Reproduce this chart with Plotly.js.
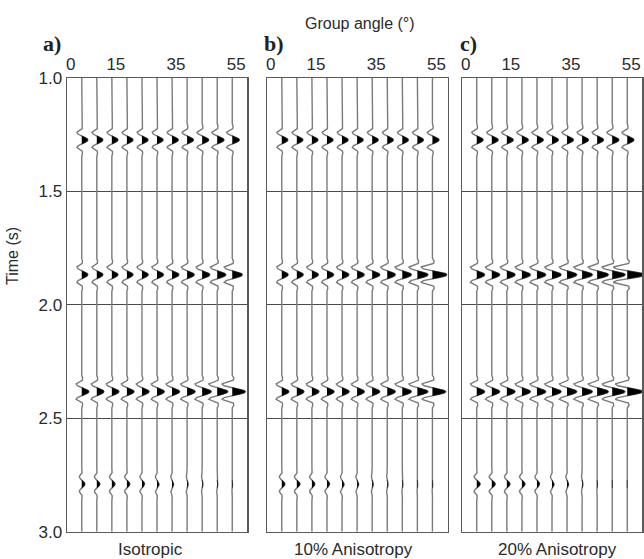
<!DOCTYPE html>
<html>
<head>
<meta charset="utf-8">
<script src="https://cdn.plot.ly/plotly-3.0.1.min.js"></script>
<style>
  html, body { margin: 0; padding: 0; background: #fff; }
  #chart { width: 644px; height: 559px; }
</style>
</head>
<body>
<div id="chart"></div>
<script>
// Group angles of the traces (degrees) and axis tick labels
const angles = [5, 10, 15, 20, 25, 30, 35, 40, 45, 50, 55];
const angleTicks = [0, 15, 35, 55];
const timeTicks = [1.0, 1.5, 2.0, 2.5, 3.0];

// Reflection arrival times (s)
const eventTimes = [1.274, 1.868, 2.383, 2.79];

// Wavelet samples: time offset from arrival (s) and normalised amplitude
const waveOffsets = [-0.072, -0.060, -0.050, -0.042, -0.034, -0.026, -0.018, -0.011, -0.005, 0,
                     0.005, 0.011, 0.018, 0.026, 0.034, 0.042, 0.050, 0.060, 0.072];
const waveValues  = [0, 0.12, 0.08, -0.35, -0.80, -0.62, 0, 0.55, 0.92, 1,
                     0.92, 0.55, 0, -0.62, -0.80, -0.35, 0.08, 0.12, 0];

// Relative peak amplitude per event (rows) and angle (columns)
const ampIsotropic = [
  [1.00, 1.00, 1.00, 1.00, 1.00, 1.00, 1.03, 1.05, 1.08, 1.12, 1.17],
  [1.00, 1.00, 1.00, 1.00, 1.03, 1.07, 1.12, 1.17, 1.25, 1.42, 1.67],
  [1.17, 1.17, 1.17, 1.17, 1.17, 1.20, 1.25, 1.33, 1.50, 1.75, 2.17],
  [0.50, 0.50, 0.50, 0.47, 0.42, 0.33, 0.25, 0.17, 0.13, 0.10, 0.08]
];
const amp10 = [
  [1.00, 1.00, 1.00, 1.00, 1.00, 1.00, 1.00, 1.00, 1.00, 1.00, 1.08],
  [1.05, 1.05, 1.07, 1.10, 1.12, 1.17, 1.25, 1.33, 1.50, 1.75, 2.40],
  [1.17, 1.17, 1.17, 1.17, 1.17, 1.20, 1.25, 1.33, 1.50, 1.75, 2.20],
  [0.50, 0.50, 0.47, 0.42, 0.33, 0.25, 0.17, 0.13, 0.10, 0.08, 0.08]
];
const amp20 = [
  [1.05, 1.05, 1.05, 1.05, 1.05, 1.05, 1.05, 1.05, 1.05, 1.10, 1.10],
  [1.30, 1.30, 1.35, 1.40, 1.45, 1.50, 1.60, 1.70, 1.85, 2.15, 2.90],
  [1.30, 1.30, 1.35, 1.40, 1.45, 1.50, 1.60, 1.70, 1.85, 2.10, 2.50],
  [0.55, 0.55, 0.50, 0.50, 0.42, 0.33, 0.25, 0.13, 0.08, 0.05, 0.03]
];

const panelNames = ["Isotropic", "10% Anisotropy", "20% Anisotropy"];
const panelLetters = ["a)", "b)", "c)"];
const panelAmps = [ampIsotropic, amp10, amp20];

// ---- drawing ----
const W = 644, H = 559;
const GAIN = 2.0;                 // trace deflection in degrees per unit amplitude
const panelPx = [[66.7, 247.3], [266.7, 447.5], [461.7, 642.3]];
const yTopPx = 77.7, yBotPx = 531.7;
const fillStart = waveValues.indexOf(0, 1);          // first zero crossing
const fillEnd = waveValues.indexOf(0, fillStart + 1); // second zero crossing

const traces = [];
panelAmps.forEach((amps, p) => {
  const xa = p === 0 ? 'x' : 'x' + (p + 1);
  const ya = p === 0 ? 'y' : 'y' + (p + 1);
  const fx = [], fy = [];
  angles.forEach((a, i) => {
    const xs = [a], ys = [timeTicks[0]];
    eventTimes.forEach((t0, e) => {
      const g = GAIN * amps[e][i];
      waveOffsets.forEach((off, k) => {
        xs.push(a + g * waveValues[k]);
        ys.push(t0 + off);
      });
      for (let k = fillStart; k <= fillEnd; k++) {
        fx.push(a + g * waveValues[k]);
        fy.push(t0 + waveOffsets[k]);
      }
      fx.push(null); fy.push(null);
    });
    xs.push(a); ys.push(timeTicks[timeTicks.length - 1]);
    traces.push({
      x: xs, y: ys, xaxis: xa, yaxis: ya, type: 'scatter', mode: 'lines',
      line: { color: '#7a7a7a', width: 1.4 }, hoverinfo: 'skip', showlegend: false
    });
  });
  traces.push({
    x: fx, y: fy, xaxis: xa, yaxis: ya, type: 'scatter', mode: 'lines',
    fill: 'toself', fillcolor: '#000', line: { color: '#111', width: 0.6 },
    hoverinfo: 'skip', showlegend: false
  });
});

const font = "'Liberation Sans', Arial, sans-serif";
const textColor = '#2b2b2b';
const layout = {
  width: W, height: H,
  margin: { l: 0, r: 0, t: 0, b: 0 },
  paper_bgcolor: '#fff', plot_bgcolor: '#fff',
  showlegend: false,
  font: { family: font, color: textColor, size: 16 },
  annotations: []
};

const yDomain = [1 - yBotPx / H, 1 - yTopPx / H];
panelPx.forEach((px, p) => {
  const sfx = p === 0 ? '' : String(p + 1);
  layout['xaxis' + sfx] = {
    domain: [px[0] / W, px[1] / W], range: [0, 60], anchor: 'y' + sfx,
    side: 'top', tickvals: angleTicks, ticktext: angleTicks.map(String),
    ticks: '', showgrid: false, zeroline: false,
    showline: true, mirror: true, linecolor: '#5a5a5a', linewidth: 1.2,
    tickfont: { size: 17, family: font, color: textColor },
    ticklabelshift: 4, fixedrange: true
  };
  layout['yaxis' + sfx] = {
    domain: yDomain, range: [3.0, 1.0], anchor: 'x' + sfx,
    tickvals: timeTicks, ticktext: timeTicks.map(v => v.toFixed(1)),
    showticklabels: p === 0, ticks: '',
    showgrid: true, gridcolor: '#4a4a4a', gridwidth: 1.1, zeroline: false,
    showline: true, mirror: true, linecolor: '#5a5a5a', linewidth: 1.2,
    tickfont: { size: 17, family: font, color: textColor }, fixedrange: true
  };
});

const labelX = [150, 353, 557];
panelNames.forEach((name, p) => {
  layout.annotations.push({
    text: name, xref: 'paper', yref: 'paper', x: labelX[p] / W, y: 1 - 549 / H,
    xanchor: 'center', yanchor: 'middle', showarrow: false,
    font: { size: 17, family: font, color: textColor }
  });
});
const letterX = [52, 274, 468];
panelLetters.forEach((lt, p) => {
  layout.annotations.push({
    text: '<b>' + lt + '</b>', xref: 'paper', yref: 'paper', x: letterX[p] / W, y: 1 - 44 / H,
    xanchor: 'center', yanchor: 'middle', showarrow: false,
    font: { size: 22, family: "'Liberation Serif', 'Times New Roman', serif", color: '#222' }
  });
});
layout.annotations.push({
  text: 'Group angle (°)', xref: 'paper', yref: 'paper', x: 360 / W, y: 1 - 23 / H,
  xanchor: 'center', yanchor: 'middle', showarrow: false,
  font: { size: 16, family: font, color: textColor }
});
layout.annotations.push({
  text: 'Time (s)', xref: 'paper', yref: 'paper', x: 12 / W, y: 1 - 256 / H,
  xanchor: 'center', yanchor: 'middle', showarrow: false, textangle: -90,
  font: { size: 16, family: font, color: textColor }
});

Plotly.newPlot('chart', traces, layout, { staticPlot: true, displayModeBar: false });
</script>
</body>
</html>
